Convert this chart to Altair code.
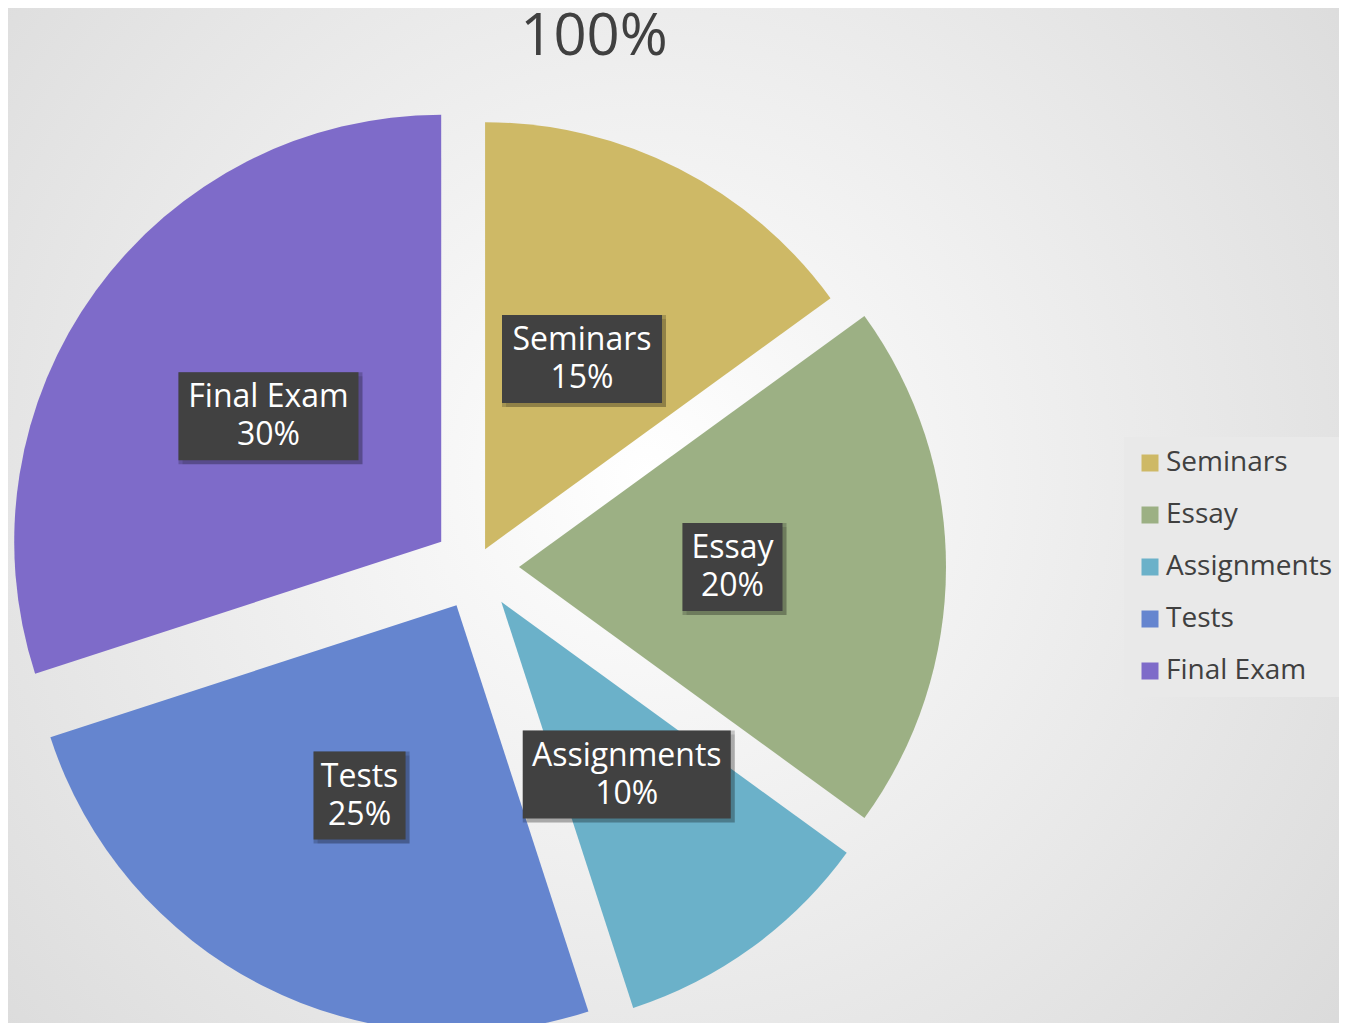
import math
import altair as alt
import pandas as pd

# ---- data ----
categories = ["Seminars", "Essay", "Assignments", "Tests", "Final Exam"]
shares = [15, 20, 10, 25, 30]
title_text = "100%"

# ---- style ----
colors = ["#CEB966", "#9CB084", "#6BB1C9", "#6585CF", "#7E6BC9"]
explode = [20, 43, 43, 43, 43]      # slice pull-out, px
box_w = [160, 100, 208, 92, 180]     # label box widths, px
BOX_H = 88
R = 427
W, H = 1331, 1015
CX, CY = 468, 559
FONT = "Open Sans"
TXT = "#404040"

df = pd.DataFrame({
    "category": categories,
    "share": shares,
    "order": list(range(len(categories))),
    "explode": explode,
    "bw": box_w,
})

xs = alt.Scale(domain=[-CX, W - CX], nice=False, zero=False)
ys = alt.Scale(domain=[-(H - CY), CY], nice=False, zero=False)

bg = alt.Chart(alt.Data(values=[{"a": 1}])).mark_rect(
    fill=alt.Gradient(
        gradient="radial",
        x1=0.48, y1=0.47, r1=0, x2=0.48, y2=0.47, r2=0.75,
        stops=[alt.GradientStop(offset=0, color="#ffffff"),
               alt.GradientStop(offset=1, color="#d6d6d6")],
    )
).encode(
    x=alt.value(0), x2=alt.value(W), y=alt.value(0), y2=alt.value(H)
)

title = alt.Chart(alt.Data(values=[{"t": title_text}])).mark_text(
    fontSize=58, font=FONT, color=TXT, align="center", baseline="alphabetic",
).encode(
    text="t:N", x=alt.value(586), y=alt.value(47)
)

base = alt.Chart(df).transform_window(
    cum="sum(share)", sort=[alt.SortField("order")], frame=[None, 0]
).transform_calculate(
    start="datum.cum - datum.share",
    mid="(datum.cum - datum.share / 2) / 100 * 2 * PI",
    dx="datum.explode * sin(datum.mid)",
    dy="datum.explode * cos(datum.mid)",
    lr=f"datum.explode + {R * 0.5}",
    lx="datum.lr * sin(datum.mid)",
    ly="datum.lr * cos(datum.mid)",
    bx1="datum.lx - datum.bw / 2",
    bx2="datum.lx + datum.bw / 2",
    by1=f"datum.ly - {BOX_H / 2}",
    by2=f"datum.ly + {BOX_H / 2}",
    sx1="datum.bx1 + 4",
    sx2="datum.bx2 + 4",
    sy1="datum.by1 - 4",
    sy2="datum.by2 - 4",
    lbl="datum.category + '\\n' + datum.share + '%'",
)

arcs = base.mark_arc(radius=R).encode(
    x=alt.X("dx:Q", scale=xs, axis=None),
    y=alt.Y("dy:Q", scale=ys, axis=None),
    theta=alt.Theta("start:Q", stack=None,
                    scale=alt.Scale(domain=[0, 100], range=[0, 2 * math.pi])),
    theta2="cum:Q",
    color=alt.Color(
        "category:N",
        sort=categories,
        scale=alt.Scale(domain=categories, range=colors),
        legend=alt.Legend(
            orient="none", legendX=1116, legendY=429, title=None,
            fillColor="#e9e9e9", padding=12, symbolType="square",
            symbolSize=289, symbolStrokeWidth=0, labelFontSize=28,
            labelFont=FONT, labelColor=TXT, labelOffset=2, rowPadding=24,
            labelLimit=400,
        ),
    ),
)

shadow2 = base.mark_rect(color="#000000", opacity=0.12).encode(
    x=alt.X("sx1:Q", scale=xs, axis=None), x2="sx2:Q",
    y=alt.Y("sy1:Q", scale=ys, axis=None), y2="sy2:Q",
)
shadow = base.mark_rect(color="#000000", opacity=0.2).encode(
    x=alt.X("bx1:Q", scale=xs, axis=None), x2="sx2:Q",
    y=alt.Y("sy1:Q", scale=ys, axis=None), y2="by2:Q",
)

boxes = base.mark_rect(color="#414141").encode(
    x=alt.X("bx1:Q", scale=xs, axis=None), x2="bx2:Q",
    y=alt.Y("by1:Q", scale=ys, axis=None), y2="by2:Q",
)

labels = base.mark_text(
    lineBreak="\n", fontSize=32, font=FONT, color="white",
    align="center", baseline="middle", lineHeight=38, dy=-19,
).encode(
    x=alt.X("lx:Q", scale=xs, axis=None),
    y=alt.Y("ly:Q", scale=ys, axis=None),
    text="lbl:N",
)

chart = alt.layer(bg, title, arcs, shadow2, shadow, boxes, labels).properties(
    width=W, height=H,
    autosize=alt.AutoSizeParams(type="none"),
    padding=0,
).configure_view(
    strokeWidth=0,
).configure(background="#dcdcdc")

chart.save("out.html", embed_options={"renderer": "svg", "actions": False})
